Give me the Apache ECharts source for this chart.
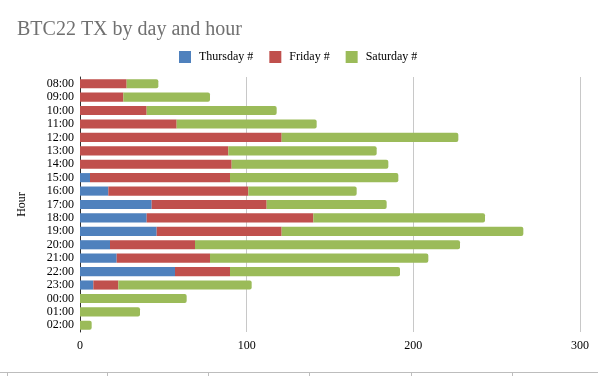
<!DOCTYPE html>
<html>
<head>
<meta charset="utf-8">
<script src="https://cdn.jsdelivr.net/npm/echarts@6/dist/echarts.min.js"></script>
<style>
  html, body { margin: 0; padding: 0; background: #fff; }
  #chart { width: 598px; height: 376px; }
</style>
</head>
<body>
<div id="chart"></div>
<script>
// hours, top to bottom
var hours = ["08:00", "09:00", "10:00", "11:00", "12:00", "13:00", "14:00", "15:00", "16:00", "17:00",
  "18:00", "19:00", "20:00", "21:00", "22:00", "23:00", "00:00", "01:00", "02:00"];
var thursday = [0, 0, 0, 0, 0, 0, 0, 6, 17, 43, 40, 46, 18, 22, 57, 8, 0, 0, 0];
var friday = [28, 26, 40, 58, 121, 89, 91, 84, 84, 69, 100, 75, 51, 56, 33, 15, 0, 0, 0];
var saturday = [19, 52, 78, 84, 106, 89, 94, 101, 65, 72, 103, 145, 159, 131, 102, 80, 64, 36, 7];
var xTicks = [0, 100, 200, 300];

var serif = "'Liberation Serif', 'DejaVu Serif', serif";
var chart = echarts.init(document.getElementById("chart"));

// bottom sheet border with column ticks (decoration only)
var deco = [{
  type: "line",
  shape: { x1: 0, y1: 372.5, x2: 598, y2: 372.5 },
  style: { stroke: "#bdbdbd", lineWidth: 1 }
}];
[7, 107, 208, 309, 411, 512].forEach(function (x) {
  deco.push({
    type: "line",
    shape: { x1: x + 0.5, y1: 372, x2: x + 0.5, y2: 376 },
    style: { stroke: "#bdbdbd", lineWidth: 1 }
  });
});

var option = {
  backgroundColor: "#fff",
  animation: false,
  title: {
    text: "BTC22 TX by day and hour",
    left: 12,
    top: 15,
    textStyle: { fontFamily: serif, fontSize: 20, fontWeight: "normal", color: "#707070" }
  },
  legend: {
    top: 46,
    left: 174,
    itemWidth: 12,
    itemHeight: 12,
    itemGap: 16,
    icon: "rect",
    textStyle: { fontFamily: serif, fontSize: 12, color: "#000", padding: [0, 0, 0, 3] },
    data: ["Thursday #", "Friday #", "Saturday #"]
  },
  grid: { left: 80, right: 18, top: 77, height: 255, containLabel: false },
  xAxis: {
    type: "value",
    min: 0,
    max: 300,
    interval: 100,
    axisLine: { show: false },
    axisTick: { show: false },
    splitLine: { show: true, lineStyle: { color: "#c8c8c8", width: 1 } },
    axisLabel: {
      fontFamily: serif, fontSize: 12, color: "#000", margin: 8,
      formatter: function (v) { return xTicks.indexOf(v) >= 0 ? String(v) : ""; }
    }
  },
  yAxis: {
    type: "category",
    inverse: true,
    data: hours,
    name: "Hour",
    nameLocation: "middle",
    nameGap: 52,
    nameRotate: 90,
    nameTextStyle: { fontFamily: serif, fontSize: 12, color: "#000" },
    axisLine: { show: true, lineStyle: { color: "#333", width: 1 } },
    axisTick: { show: false },
    axisLabel: { interval: 0, fontFamily: serif, fontSize: 12, color: "#000", margin: 6 }
  },
  series: [
    {
      name: "Thursday #", type: "bar", stack: "t", data: thursday,
      barCategoryGap: "32%", itemStyle: { color: "#4F81BD" }
    },
    {
      name: "Friday #", type: "bar", stack: "t", data: friday,
      itemStyle: { color: "#C0504D" }
    },
    {
      name: "Saturday #", type: "bar", stack: "t", data: saturday,
      itemStyle: { color: "#9BBB59", borderRadius: [0, 2, 2, 0] }
    }
  ],
  graphic: deco
};
chart.setOption(option);
</script>
</body>
</html>
